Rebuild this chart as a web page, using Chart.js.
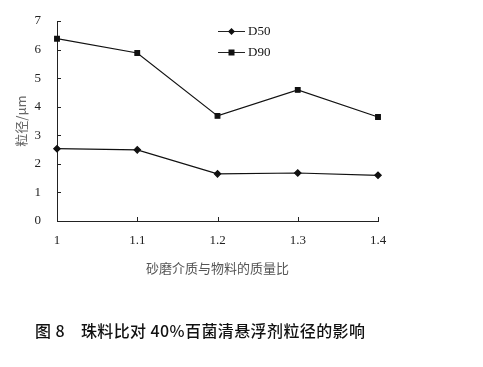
<!DOCTYPE html>
<html>
<head>
<meta charset="utf-8">
<script src="https://cdn.jsdelivr.net/npm/chart.js@4/dist/chart.umd.min.js"></script>
<style>
  html, body { margin: 0; padding: 0; background: #fff; }
  #wrap { position: relative; width: 483px; height: 367px; }
  #caption {
    position: absolute; left: 35px; top: 318px;
    font-family: "Noto Sans CJK SC", sans-serif; font-size: 16px; font-weight: 500;
    color: #111; white-space: pre; letter-spacing: 0.4px;
  }
</style>
</head>
<body>
<div id="wrap">
  <canvas id="myChart" width="483" height="367"></canvas>
  <div id="caption">图 8    珠料比对 40%百菌清悬浮剂粒径的影响</div>
</div>
<script>
const ratios = ['1', '1.1', '1.2', '1.3', '1.4'];
const d50 = [2.53, 2.49, 1.65, 1.68, 1.6];
const d90 = [6.38, 5.88, 3.68, 4.59, 3.64];
const yTicks = [0, 1, 2, 3, 4, 5, 6, 7];

// inward tick marks + legend inside plot
const extras = {
  id: 'extras',
  afterDraw(chart) {
    const c = chart.ctx;
    const xs = chart.scales.x, ys = chart.scales.y;
    c.save();
    c.strokeStyle = '#222';
    c.lineWidth = 1;
    c.beginPath();
    yTicks.forEach(v => {
      const py = Math.round(ys.getPixelForValue(v)) + 0.5;
      c.moveTo(xs.left, py); c.lineTo(xs.left + 4, py);
    });
    ratios.forEach((r, i) => {
      const px = Math.round(xs.getPixelForValue(i)) + 0.5;
      c.moveTo(px, ys.bottom); c.lineTo(px, ys.bottom - 4);
    });
    c.stroke();
    // legend
    const lx = 218, ly = [31, 52];
    chart.data.datasets.forEach((ds, i) => {
      const y = ly[i] + 0.5;
      c.beginPath();
      c.moveTo(lx, y); c.lineTo(lx + 27, y);
      c.stroke();
      c.fillStyle = '#111';
      const mx = lx + 13.5;
      if (ds.pointStyle === 'rect') {
        c.fillRect(mx - 3, y - 3, 6, 6);
      } else {
        c.beginPath();
        c.moveTo(mx, y - 3.5); c.lineTo(mx + 3.5, y); c.lineTo(mx, y + 3.5); c.lineTo(mx - 3.5, y);
        c.closePath(); c.fill();
      }
      c.font = '13px "Liberation Serif", serif';
      c.textBaseline = 'middle';
      c.fillText(ds.label, lx + 30, y);
    });
    c.restore();
  }
};

new Chart(document.getElementById('myChart'), {
  type: 'line',
  data: {
    labels: ratios,
    datasets: [
      { label: 'D50', data: d50, borderColor: '#111', borderWidth: 1.2, pointStyle: 'rectRot',
        pointRadius: 3.2, pointBackgroundColor: '#111', pointBorderColor: '#111', tension: 0 },
      { label: 'D90', data: d90, borderColor: '#111', borderWidth: 1.2, pointStyle: 'rect',
        pointRadius: 3.3, pointBackgroundColor: '#111', pointBorderColor: '#111', tension: 0 }
    ]
  },
  options: {
    responsive: false,
    animation: false,
    layout: { padding: { left: 13, top: 21, right: 105, bottom: 91 } },
    plugins: { legend: { display: false }, tooltip: { enabled: false } },
    scales: {
      x: {
        offset: false,
        grid: { display: false },
        border: { display: true, color: '#222', width: 1 },
        ticks: { color: '#222', padding: 4, font: { family: '"Liberation Serif", serif', size: 13 } },
        title: { display: true, text: '砂磨介质与物料的质量比', color: '#555', padding: { top: 6, bottom: 0 },
          font: { family: '"Noto Sans CJK SC", sans-serif', size: 13 } },
        afterFit(s) { s.height = 55; }
      },
      y: {
        min: 0, max: 7,
        grid: { display: false },
        border: { display: true, color: '#222', width: 1 },
        ticks: { stepSize: 1, color: '#222', padding: 8, font: { family: '"Liberation Serif", serif', size: 13 } },
        title: { display: true, text: '粒径/μm', color: '#666', padding: { top: 0, bottom: 0 },
          font: { family: '"Noto Sans CJK SC", sans-serif', size: 13 } },
        afterFit(s) { s.width = 44; }
      }
    }
  },
  plugins: [extras]
});
</script>
</body>
</html>
